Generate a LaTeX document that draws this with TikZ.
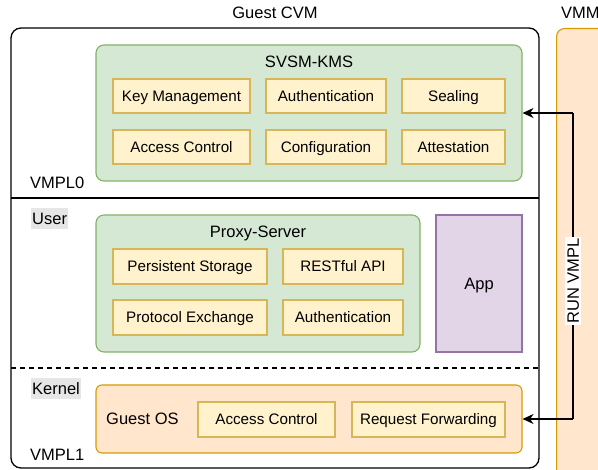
\documentclass[tikz,border=0pt]{standalone}
\usepackage{fontspec}
\setmainfont{Liberation Sans}
\usetikzlibrary{arrows.meta}
\definecolor{gfill}{HTML}{D5E8D4}
\definecolor{gline}{HTML}{82B366}
\definecolor{yfill}{HTML}{FFF2CC}
\definecolor{yline}{HTML}{D6B656}
\definecolor{ofill}{HTML}{FFE6CC}
\definecolor{oline}{HTML}{D79B00}
\definecolor{pfill}{HTML}{E1D5E7}
\definecolor{pline}{HTML}{9673A6}
\definecolor{lblgray}{HTML}{E6E6E6}
\tikzset{
  ybox/.style={draw=yline, fill=yfill, line width=1.1pt, inner sep=0pt, text height=12pt, text depth=1pt, font=\fontsize{15.2}{18}\selectfont},
  gbox/.style={draw=gline, fill=gfill, line width=1.1pt, rounded corners=8pt, inner sep=0pt},
  obox/.style={draw=oline, fill=ofill, line width=1.1pt, rounded corners=6pt, inner sep=0pt},
  pbox/.style={draw=pline, fill=pfill, line width=1.1pt, inner sep=0pt},
  lbl/.style={inner sep=0pt, text height=13pt, text depth=1.2pt, font=\fontsize{16.5}{19}\selectfont},
  glbl/.style={inner sep=0pt, inner xsep=1pt, fill=lblgray, minimum height=21pt, text height=13pt, text depth=1.2pt, font=\fontsize{16.5}{19}\selectfont},
  arr/.style={line width=1.3pt, -{Stealth[length=11pt,width=10pt,inset=3.5pt]}},
}
\begin{document}
\begin{tikzpicture}[x=1pt,y=-1pt]
\useasboundingbox (0,0) rectangle (598,470);
\clip (0,0) rectangle (598,470);
% outer boxes
\draw[line width=1.3pt, rounded corners=10pt] (11,28) rectangle (539,468);
\node[obox, rounded corners=8pt, minimum width=80pt, minimum height=470pt, anchor=north west] (vmm) at (556,28) {};
\node[lbl] (gcvm) at (275,13) {Guest CVM};
\node[lbl, anchor=west] (vmmlbl) at (561,13) {VMM};
% separators
\coordinate (s1l) at (11,198); \coordinate (s1r) at (539,198);
\coordinate (s2l) at (11,368); \coordinate (s2r) at (539,368);
\draw[line width=1.3pt] (s1l) -- (s1r);
\draw[line width=1.1pt, dash pattern=on 5pt off 4pt] (s2l) -- (s2r);
% SVSM-KMS
\node[gbox, minimum width=426pt, minimum height=136pt] (sv) at (309,113) {};
\node[lbl] (svt) at (309,62) {SVSM-KMS};
\node[ybox, minimum width=137pt, minimum height=34pt] (km) at (181.5,96) {Key Management};
\node[ybox, minimum width=120pt, minimum height=34pt] (au) at (326,96) {Authentication};
\node[ybox, minimum width=103pt, minimum height=34pt] (se) at (453.5,96) {Sealing};
\node[ybox, minimum width=137pt, minimum height=34pt] (ac) at (181.5,147) {Access Control};
\node[ybox, minimum width=120pt, minimum height=34pt] (co) at (326,147) {Configuration};
\node[ybox, minimum width=103pt, minimum height=34pt] (at) at (453.5,147) {Attestation};
\node[lbl, anchor=west] (v0) at (30,183) {VMPL0};
% User
\node[glbl, anchor=west] (user) at (31,219) {User};
\node[gbox, minimum width=324pt, minimum height=137pt] (px) at (258,283.5) {};
\node[lbl] (pxt) at (258,232) {Proxy-Server};
\node[ybox, minimum width=154pt, minimum height=35pt] (ps) at (190,266.5) {Persistent Storage};
\node[ybox, minimum width=120pt, minimum height=35pt] (ra) at (343,266.5) {RESTful API};
\node[ybox, minimum width=154pt, minimum height=35pt] (pe) at (190,317.5) {Protocol Exchange};
\node[ybox, minimum width=120pt, minimum height=35pt] (pa) at (343,317.5) {Authentication};
\node[pbox, minimum width=86pt, minimum height=137pt, lbl] (app) at (479,283.5) {App};
% Kernel
\node[glbl, anchor=west] (kern) at (31,389) {Kernel};
\node[obox, minimum width=426pt, minimum height=68pt] (gos) at (309,419) {};
\node[lbl, anchor=west] (gost) at (106,419) {Guest OS};
\node[ybox, minimum width=137pt, minimum height=35pt] (kac) at (266.5,419.5) {Access Control};
\node[ybox, minimum width=153pt, minimum height=35pt] (rf) at (428.5,419.5) {Request Forwarding};
\node[lbl, anchor=west] (v1) at (30,455) {VMPL1};
% RUN VMPL connector
\coordinate (ct) at (573,113);
\coordinate (cb) at (573,419);
\draw[line width=1.3pt] (ct) -- (cb);
\draw[arr] (ct) -- (sv.east);
\draw[arr] (cb) -- (gos.east);
\node[lbl, fill=white, inner sep=1pt, rotate=90] (run) at (573,281) {RUN VMPL};
\end{tikzpicture}
\end{document}
